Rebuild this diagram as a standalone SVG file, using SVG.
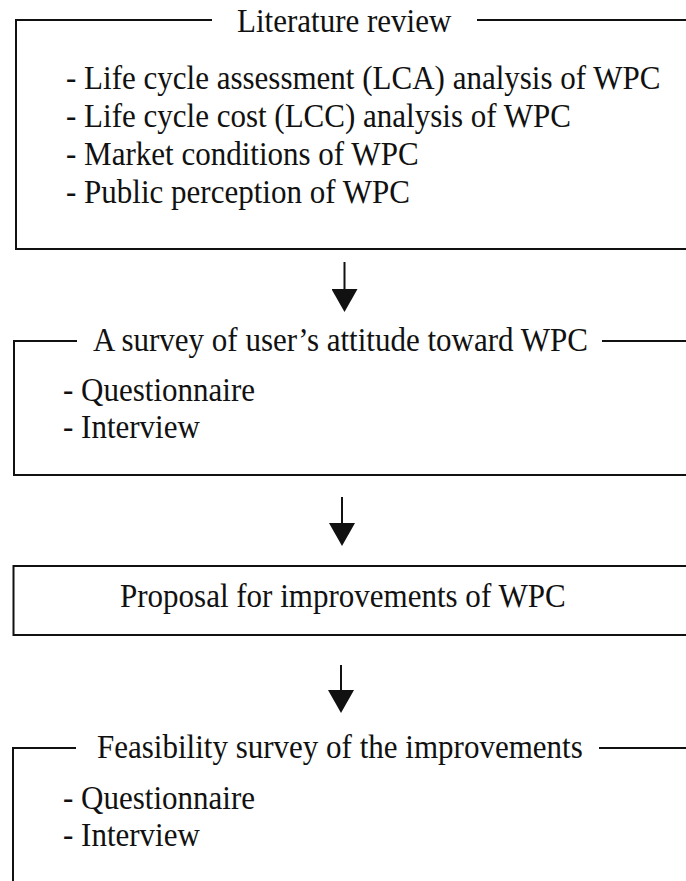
<svg xmlns="http://www.w3.org/2000/svg" width="686" height="881" viewBox="0 0 686 881">
  <style>
    .frame { fill: none; stroke: #111; stroke-width: 2; }
    .shaft { fill: none; stroke: #111; stroke-width: 2; }
    .label { font-family: 'Liberation Serif', 'DejaVu Serif', serif; font-size: 33px; fill: #111; }
  </style>
  <defs>
    <!-- solid triangular arrowhead, base at the shaft end -->
    <marker id="head" viewBox="0 0 23 26" refX="0" refY="13" markerWidth="23" markerHeight="26" markerUnits="userSpaceOnUse" orient="auto">
      <path d="M0,0 L23,13 L0,26 Z" fill="#111"/>
    </marker>
  </defs>
  <rect width="686" height="881" fill="#fff"/>

  <!-- Step 1: literature review (text set slightly condensed) -->
  <g id="literature-review" class="label">
    <path class="frame" d="M212,20 H16 V249 H700"/>
    <path class="frame" d="M477,20 H700"/>
    <text transform="translate(237,32) scale(0.94,1)">Literature review</text>
    <text transform="translate(66,89) scale(0.94,1)">- Life cycle assessment (LCA) analysis of WPC</text>
    <text transform="translate(66,127) scale(0.94,1)">- Life cycle cost (LCC) analysis of WPC</text>
    <text transform="translate(66,165) scale(0.94,1)">- Market conditions of WPC</text>
    <text transform="translate(66,203) scale(0.94,1)">- Public perception of WPC</text>
  </g>

  <!-- Step 2: user survey -->
  <g id="user-survey" class="label">
    <path class="frame" d="M77,341 H14 V475 H700"/>
    <path class="frame" d="M602,341 H700"/>
    <text transform="translate(93,351) scale(0.94,1)">A survey of user’s attitude toward WPC</text>
    <text transform="translate(63,401) scale(0.94,1)">- Questionnaire</text>
    <text transform="translate(63,438) scale(0.94,1)">- Interview</text>
  </g>

  <!-- Step 3: proposal -->
  <g id="proposal" class="label">
    <rect class="frame" x="13.5" y="566" width="700" height="69"/>
    <text transform="translate(120,607) scale(0.94,1)">Proposal for improvements of WPC</text>
  </g>

  <!-- Step 4: feasibility survey -->
  <g id="feasibility-survey" class="label">
    <path class="frame" d="M76,748 H13 V900"/>
    <path class="frame" d="M599,748 H700"/>
    <text transform="translate(97,758) scale(0.94,1)">Feasibility survey of the improvements</text>
    <text transform="translate(63,809) scale(0.94,1)">- Questionnaire</text>
    <text transform="translate(63,846) scale(0.94,1)">- Interview</text>
  </g>

  <!-- Connectors between steps -->
  <g id="connectors">
    <path class="shaft" d="M344.5,262 V289" marker-end="url(#head)"/>
    <path class="shaft" d="M342,497 V523" marker-end="url(#head)"/>
    <path class="shaft" d="M341,665 V690" marker-end="url(#head)"/>
  </g>
</svg>
